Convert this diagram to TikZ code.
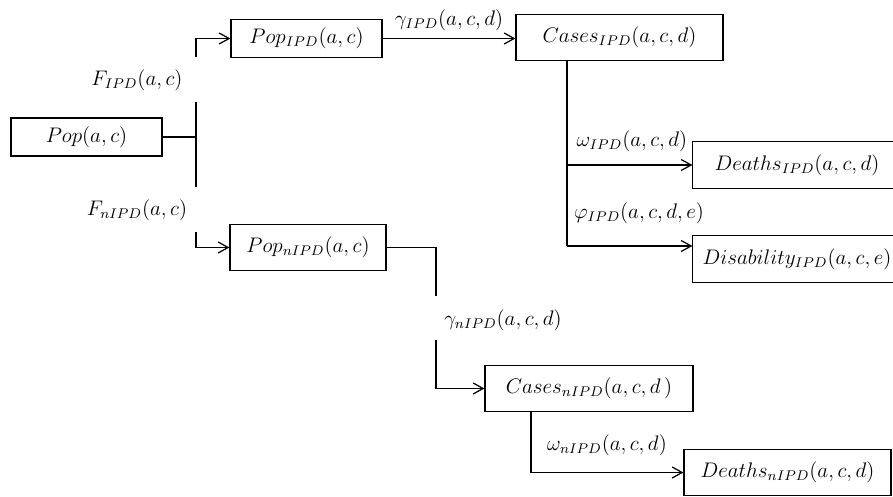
\documentclass[tikz,border=0pt]{standalone}
\usepackage{tikz}
\usetikzlibrary{calc,arrows.meta}

\begin{document}
\begin{tikzpicture}[x=0.02cm,y=-0.02cm,line width=0.7pt,
    font=\fontsize{12}{14}\selectfont,
    box/.style={draw,inner sep=0pt,minimum height=0.93cm},
    openbox/.style={inner sep=0pt,minimum height=0.93cm,minimum width=4.16cm},
    flow/.style={-{Straight Barb[length=2mm,width=2.2mm]}}]
    \useasboundingbox (0,0) rectangle (893,497);
    \clip (0,0) rectangle (893,497);

    \node[box,minimum width=3.02cm,minimum height=0.76cm] (pop) at (86.5,137) {$Pop(a,c)$};
    \node[box,minimum width=3.02cm,minimum height=0.76cm] (popI) at (306.5,38.5) {$Pop_{IPD}(a,c)$};
    \node[box,minimum width=3.12cm] (popN) at (308,247.5) {$Pop_{nIPD}(a,c)$};
    \node[box,minimum width=4.14cm] (casesI) at (619.5,37.5) {$Cases_{IPD}(a,c,d)$};
    \node[openbox] (deathsI) at (797,165) {$Deaths_{IPD}(a,c,d)$};
    \node[openbox] (disI) at (797,259) {$Disability_{IPD}(a,c,e)$};
    \node[box,minimum width=4.16cm] (casesN) at (589,388.5) {$Cases_{nIPD}(a,c,d\,)$};
    \node[box,minimum width=4.14cm] (deathsN) at (787.5,472.5) {$Deaths_{nIPD}(a,c,d)$};
    \draw ($(deathsI.north east)+(20,0)$) -| (deathsI.south west) -- ++(250,0);
    \draw ($(disI.north east)+(20,0)$) -| (disI.south west) -- ++(250,0);

    \coordinate (jA) at (196,102);
    \coordinate (jB) at (196,187);
    \coordinate (jC) at (196,57);
    \coordinate (jD) at (196,232);
    \coordinate (kA) at (436,296);
    \coordinate (kB) at (436,340);
    \coordinate (cI) at (567,246);

    \draw (pop.east) -- (pop.east -| jA);
    \draw (jA) -- (jB);
    \draw[flow] (jC) |- (popI.west);
    \draw[flow] (jD) |- (popN.west);
    \node (fI) at (137,80) {$F_{IPD}(a,c)$};
    \node (fN) at (137,210) {$F_{nIPD}(a,c)$};

    \draw[flow] (popI.east) -- (popI.east -| casesI.west)
      node[midway,above=1pt] (gI) {$\gamma_{IPD}(a,c,d)$};

    \draw (casesI.south -| cI) -- (cI);
    \draw[flow] (casesI.south -| cI) |- (deathsI.west);
    \draw[flow] (cI) -- (cI -| disI.west);
    \node (wI) at (632,141) {$\omega_{IPD}(a,c,d)$};
    \node (pI) at (639,213) {$\varphi_{IPD}(a,c,d,e)$};

    \draw (popN.east) -| (kA);
    \draw[flow] (kB) |- (casesN.west);
    \node (gN) at (503,320) {$\gamma_{nIPD}(a,c,d)$};

    \draw[flow] (casesN.south -| 531,0) |- (deathsN.west);
    \node (wN) at (607,445) {$\omega_{nIPD}(a,c,d)$};
  \end{tikzpicture}
\end{document}
